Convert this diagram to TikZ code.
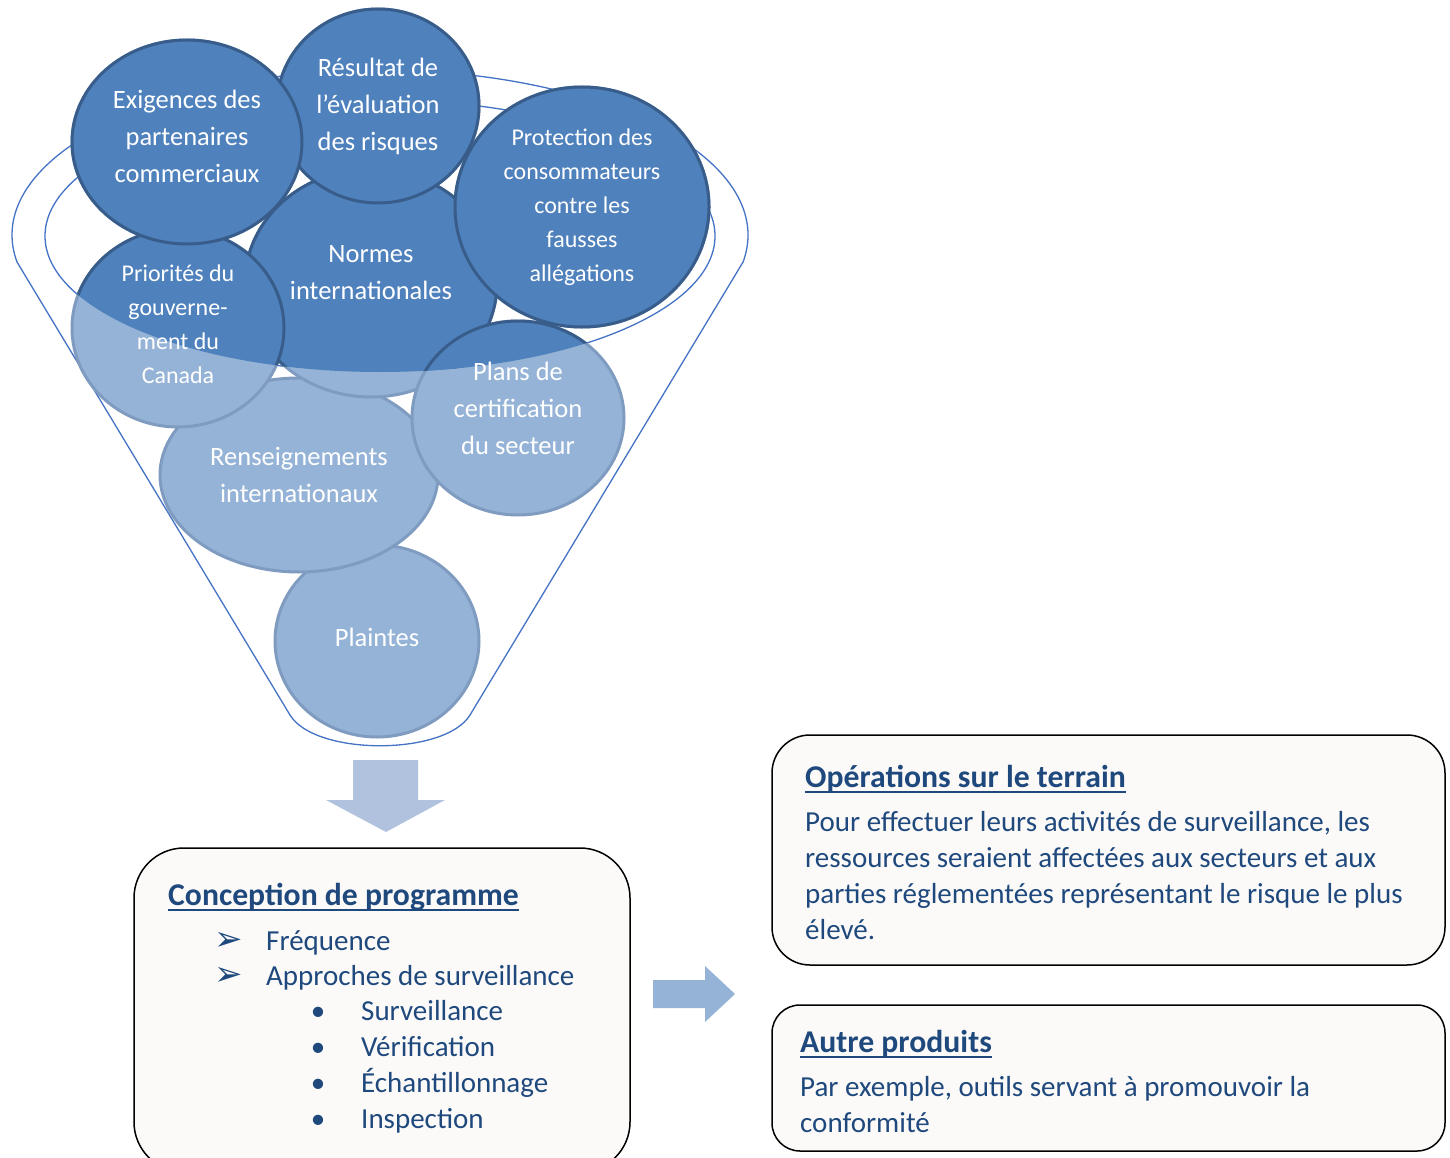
\documentclass[tikz,border=0pt]{standalone}
\usepackage{fontspec}
\setmainfont{Carlito}
\newfontfamily\symbolfont{DejaVu Sans}
\usetikzlibrary{shapes.geometric}

\begin{document}
\begin{tikzpicture}[x=1pt, y=-1pt,
    funnel/.style={draw=lineColour, line width=1.3pt},
    bubble/.style={ellipse, inner sep=0pt, fill=lightFill, draw=lightBorder, line width=3pt},
    darkbubble/.style={fill=darkFill, draw=darkBorder, line width=3pt},
    bigtext/.style={text=white, align=center, font=\fontsize{26.5}{37}\selectfont},
    smalltext/.style={text=white, align=center, font=\fontsize{24}{34}\selectfont},
    panel/.style={rectangle, draw=black, line width=1.5pt, fill=boxFill, inner sep=0pt},
    heading/.style={anchor=base west, inner sep=0pt, text=textColour, font=\fontsize{31.7}{38}\selectfont\bfseries},
    body/.style={anchor=base west, inner sep=0pt, text=textColour, font=\fontsize{29}{36}\selectfont},
    bulletmark/.style={anchor=base, inner sep=0pt, text=textColour},
    arrowmark/.style={bulletmark, font=\symbolfont\fontsize{34}{36}\selectfont}]
    % Define colours
    \definecolor{lineColour}{HTML}{4472C4}
    \definecolor{darkFill}{HTML}{4F81BD}
    \definecolor{darkBorder}{HTML}{385D8A}
    \definecolor{lightFill}{HTML}{95B3D7}
    \definecolor{lightBorder}{HTML}{7F9CC0}
    \definecolor{textColour}{HTML}{1F497D}
    \definecolor{boxFill}{HTML}{FBFAF9}
    \definecolor{arrowDown}{HTML}{B0C2DE}
    \definecolor{arrowRight}{HTML}{95B3D7}

    % Define bubbles (name/centre x/centre y/x radius/y radius)
    \def\bubbleList{plaintes/377/641/102/96, renseign/299/475/139/97, normes/371/283/126/114,
        prior/178/328/106/99, plans/518/418/106/97, result/378/106/101/97,
        exig/187/142/115/102, protect/582/207/127/120}

    % Page frame
    \useasboundingbox (0,0) rectangle (1450,1158);
    \clip (0,0) rectangle (1450,1158);

    % Draw funnel
    \draw[funnel] (290,715) -- (17,262) arc[start angle=170.6, end angle=369.4, x radius=368, y radius=165]
        -- (470,715) .. controls (445,756) and (315,756) .. (290,715);
    \draw[funnel] (380,236) ellipse [x radius=335, y radius=136];

    % Draw bubbles
    \foreach \name/\cx/\cy/\rx/\ry in \bubbleList
        \node[bubble, minimum width={2*\rx*1pt}, minimum height={2*\ry*1pt}] (\name) at (\cx,\cy) {};

    % Darken everything above the lower rim of the funnel mouth
    \begin{scope}
        \clip (0,0) -- (0,236) -- (45,236) arc[start angle=180, end angle=0, x radius=335, y radius=136]
            -- (1450,236) -- (1450,0) -- cycle;
        \foreach \name/\cx/\cy/\rx/\ry in \bubbleList
            \draw[darkbubble] (\cx,\cy) ellipse [x radius=\rx, y radius=\ry];
    \end{scope}

    % Label the bubbles
    \node[bigtext, yshift=6pt] (exigtext) at (exig) {Exigences des\\partenaires\\commerciaux};
    \node[bigtext] (resulttext) at (result) {Résultat de\\l’évaluation\\des risques};
    \node[smalltext] (protecttext) at (protect) {Protection des\\consommateurs\\contre les\\fausses\\allégations};
    \node[bigtext, yshift=10pt] (normestext) at (normes) {Normes\\internationales};
    \node[smalltext, yshift=4pt] (priortext) at (prior) {Priorités du\\gouverne-\\ment du\\Canada};
    \node[bigtext, yshift=10pt] (planstext) at (plans) {Plans de\\certification\\du secteur};
    \node[bigtext] (renseigntext) at (renseign) {Renseignements\\internationaux};
    \node[bigtext, yshift=4pt] (plaintestext) at (plaintes) {Plaintes};

    % Draw block arrows
    \fill[arrowDown] (353,760) -- (418,760) -- (418,800) -- (445,800) -- (386,832) -- (326,800) -- (353,800) -- cycle;
    \fill[arrowRight] (653,980) -- (705,980) -- (705,966) -- (735,994) -- (705,1022) -- (705,1008) -- (653,1008) -- cycle;

    % Draw panels
    \node[panel, rounded corners=50pt, minimum width=496pt, minimum height=324pt] (conception) at (382,1010) {};
    \node[panel, rounded corners=38pt, minimum width=673pt, minimum height=230pt] (operations) at (1108.5,850) {};
    \node[panel, rounded corners=28pt, minimum width=673pt, minimum height=146pt] (autres) at (1108.5,1078) {};

    % Programme design panel
    \node[heading] (conchead) at (168,905) {Conception de programme};
    \draw[textColour, line width=1.6pt] ([yshift=-5pt]conchead.base west) -- ([yshift=-5pt]conchead.base east);
    \node[arrowmark] (freqmark) at (229,950) {➢};
    \node[body] (freq) at (266,950) {Fréquence};
    \node[arrowmark] (approchmark) at (229,985) {➢};
    \node[body] (approch) at (266,985) {Approches de surveillance};
    \foreach \entry [count=\i] in {Surveillance, Vérification, Échantillonnage, Inspection} {
        \node[bulletmark, font=\fontsize{29}{36}\selectfont] (dot\i) at (318,984+36*\i) {•};
        \node[body] (sub\i) at (361,984+36*\i) {\entry};
    }

    % Field operations panel
    \node[heading] (ophead) at (805,787) {Opérations sur le terrain};
    \draw[textColour, line width=1.6pt] ([yshift=-5pt]ophead.base west) -- ([yshift=-5pt]ophead.base east);
    \foreach \txt [count=\i] in {{Pour effectuer leurs activités de surveillance, les},
        {ressources seraient affectées aux secteurs et aux},
        {parties réglementées représentant le risque le plus}, {élevé.}}
        \node[body] (opline\i) at (805,795+36*\i) {\txt};

    % Other products panel
    \node[heading] (autrehead) at (800,1052) {Autre produits};
    \draw[textColour, line width=1.6pt] ([yshift=-5pt]autrehead.base west) -- ([yshift=-5pt]autrehead.base east);
    \node[body] (autreline1) at (800,1096) {Par exemple, outils servant à promouvoir la};
    \node[body] (autreline2) at (800,1132) {conformité};

\end{tikzpicture}
\end{document}
